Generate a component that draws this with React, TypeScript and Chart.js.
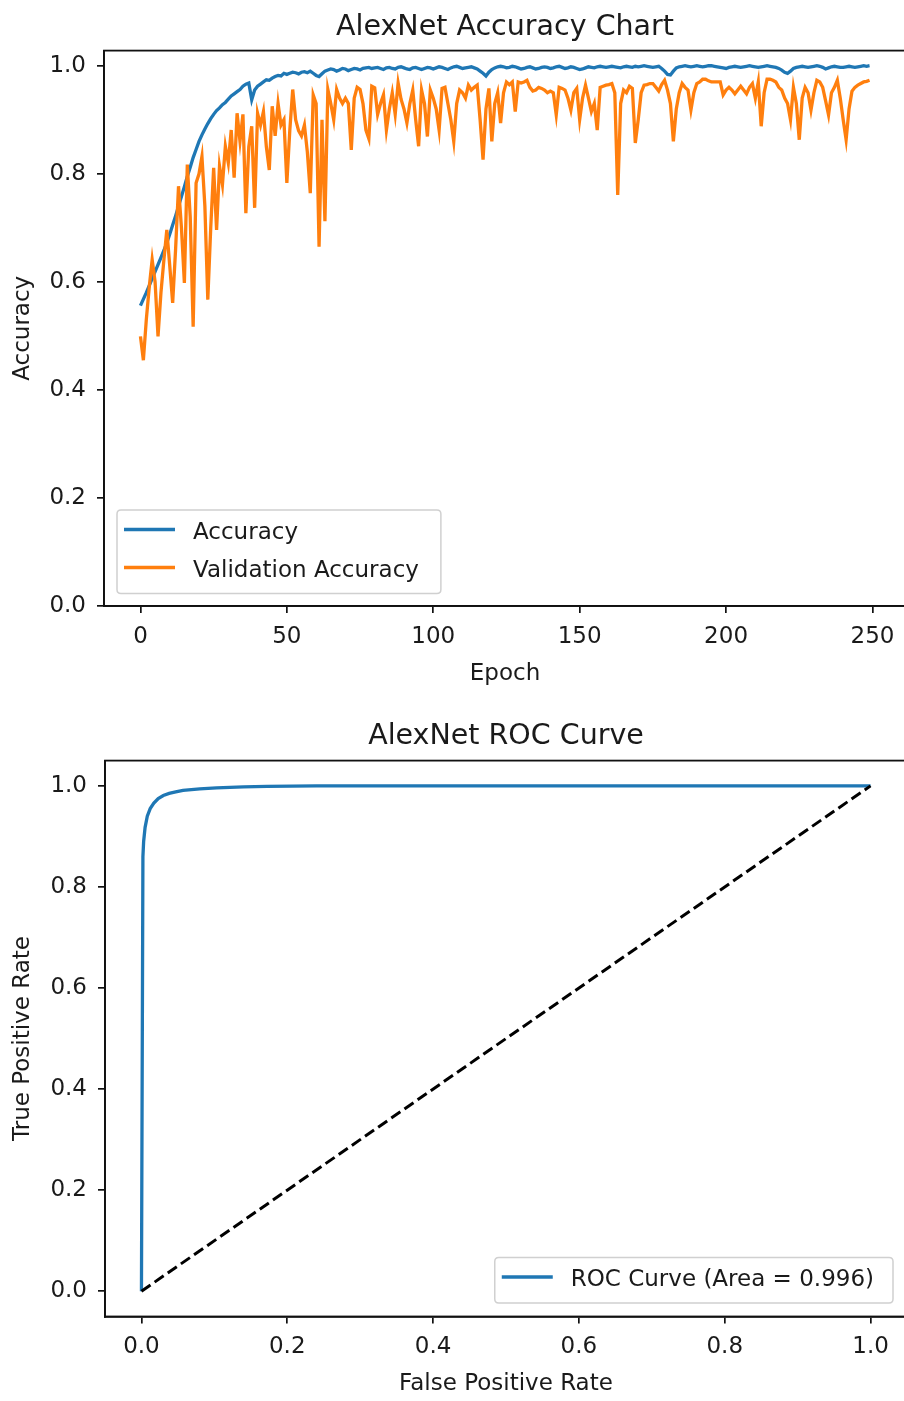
import React, { useEffect, useRef } from 'react';
import { Chart, registerables } from 'chart.js';

Chart.register(...registerables);

const FONT = '"DejaVu Sans", "Liberation Sans", sans-serif';
const TEXT = '#1a1a1a';
const BLUE = '#1f77b4';
const ORANGE = '#ff7f0e';

// ---------- Accuracy chart data ----------
const EPOCH_TICKS = [0, 50, 100, 150, 200, 250];
const ACC_TICKS = [0, 0.2, 0.4, 0.6, 0.8, 1.0];

const ACCURACY = [
  0.556, 0.568, 0.58, 0.593, 0.606, 0.619, 0.632, 0.645, 0.658, 0.672,
  0.688, 0.705, 0.722, 0.74, 0.758, 0.776, 0.795, 0.812, 0.83, 0.845,
  0.86, 0.872, 0.883, 0.893, 0.902, 0.91, 0.917, 0.922, 0.928, 0.932,
  0.938, 0.944, 0.948, 0.952, 0.956, 0.962, 0.966, 0.968, 0.937, 0.955,
  0.962, 0.966, 0.97, 0.974, 0.973, 0.977, 0.98, 0.982, 0.981, 0.986,
  0.984, 0.986, 0.988, 0.987, 0.985, 0.988, 0.989, 0.987, 0.99, 0.986,
  0.982, 0.98, 0.985, 0.99, 0.992, 0.994, 0.993, 0.99, 0.992, 0.995,
  0.994, 0.991, 0.993, 0.995, 0.994, 0.992, 0.995, 0.996, 0.997, 0.995,
  0.996, 0.997, 0.995, 0.993, 0.996, 0.997, 0.995, 0.994, 0.997, 0.998,
  0.996, 0.994, 0.993, 0.996, 0.997, 0.995, 0.993, 0.995, 0.997, 0.996,
  0.994, 0.996, 0.998, 0.997, 0.995, 0.993, 0.996, 0.998, 0.999, 0.997,
  0.995, 0.996, 0.997, 0.998, 0.996, 0.994, 0.99, 0.986, 0.981, 0.988,
  0.993, 0.996, 0.998, 0.999, 0.998, 0.996, 0.997, 0.999, 0.998, 0.996,
  0.994, 0.995, 0.997, 0.998, 0.996, 0.994, 0.995, 0.997, 0.998, 0.997,
  0.995, 0.996, 0.998, 0.999, 0.997, 0.995, 0.996, 0.998, 0.997, 0.995,
  0.993, 0.994, 0.996, 0.998, 0.997, 0.996, 0.998, 0.999, 0.998, 0.997,
  0.998, 0.999, 0.998, 0.997, 0.996, 0.998, 0.999, 0.998, 0.997, 0.999,
  0.998, 0.999, 1.0, 0.999, 0.998, 0.997, 0.998, 0.999, 0.995, 0.99,
  0.984, 0.983, 0.99, 0.996, 0.998, 0.999, 1.0, 0.999, 0.998, 0.999,
  1.0, 0.999, 0.998, 0.999, 1.0, 1.0, 0.999, 0.998, 0.997, 0.996,
  0.995, 0.997, 0.998, 0.999, 0.998, 0.997, 0.998, 0.999, 1.0, 0.999,
  0.998, 0.997, 0.998, 0.999, 1.0, 0.999, 0.998, 0.997, 0.995, 0.992,
  0.988, 0.986, 0.99, 0.995, 0.997, 0.998, 0.999, 0.998, 0.997, 0.998,
  0.999, 1.0, 0.999, 0.997, 0.994, 0.996, 0.998, 0.999, 0.998, 0.997,
  0.997, 0.998, 0.999, 0.998, 0.997, 0.998, 0.999, 1.0, 0.999, 1.0,
];

const VAL_ACCURACY = [
  0.499, 0.455, 0.53, 0.59, 0.641, 0.6, 0.499, 0.58, 0.64, 0.696,
  0.63, 0.561, 0.66, 0.777, 0.7, 0.598, 0.817, 0.72, 0.517, 0.783,
  0.8, 0.832, 0.74, 0.567, 0.7, 0.811, 0.696, 0.814, 0.78, 0.851,
  0.82, 0.881, 0.793, 0.912, 0.86, 0.91, 0.727, 0.85, 0.888, 0.737,
  0.912, 0.89, 0.915, 0.85, 0.807, 0.925, 0.87, 0.93, 0.89, 0.9,
  0.783, 0.88, 0.956, 0.9, 0.88, 0.87, 0.89, 0.84, 0.764, 0.946,
  0.93, 0.665, 0.9, 0.712, 0.956, 0.93, 0.9, 0.956, 0.94, 0.93,
  0.94, 0.93, 0.844, 0.94, 0.96, 0.956, 0.93, 0.881, 0.865, 0.962,
  0.959, 0.91, 0.93, 0.946, 0.881, 0.92, 0.95, 0.91, 0.968, 0.938,
  0.92, 0.894, 0.93, 0.955, 0.9, 0.851, 0.955, 0.93, 0.869, 0.955,
  0.94, 0.92, 0.881, 0.958, 0.96, 0.93, 0.9, 0.86, 0.93, 0.955,
  0.95, 0.94, 0.964, 0.955, 0.96, 0.964, 0.9, 0.826, 0.92, 0.958,
  0.86, 0.93, 0.95, 0.894, 0.95, 0.97, 0.965, 0.97, 0.915, 0.97,
  0.968, 0.97, 0.973, 0.96, 0.953, 0.955, 0.96, 0.958, 0.955, 0.95,
  0.953, 0.95, 0.909, 0.96, 0.958, 0.955, 0.94, 0.918, 0.95, 0.958,
  0.9, 0.94, 0.964, 0.94, 0.915, 0.93, 0.881, 0.96, 0.962, 0.964,
  0.965, 0.967, 0.95, 0.761, 0.93, 0.955, 0.95, 0.962, 0.958, 0.857,
  0.9, 0.95, 0.964, 0.965, 0.967, 0.967, 0.96, 0.953, 0.965, 0.973,
  0.955, 0.93, 0.86, 0.92, 0.95, 0.967, 0.96, 0.955, 0.918, 0.95,
  0.967, 0.97, 0.975, 0.975, 0.972, 0.97, 0.97, 0.97, 0.97, 0.946,
  0.955, 0.96, 0.955, 0.948, 0.955, 0.962, 0.955, 0.948, 0.96, 0.967,
  0.94, 0.97, 0.888, 0.95, 0.975, 0.975, 0.973, 0.97, 0.96, 0.955,
  0.94, 0.93, 0.9, 0.96, 0.93, 0.863, 0.94, 0.96, 0.95, 0.918,
  0.95, 0.973, 0.97, 0.96, 0.935, 0.909, 0.95, 0.96, 0.973, 0.94,
  0.9, 0.863, 0.92, 0.953, 0.96, 0.964, 0.967, 0.97, 0.971, 0.973,
];

// ---------- ROC chart data ----------
const ROC_TICKS = [0, 0.2, 0.4, 0.6, 0.8, 1.0];
const FPR = [0, 0.002, 0.003, 0.005, 0.008, 0.012, 0.017, 0.023, 0.03, 0.038, 0.047, 0.057, 0.08, 0.103, 0.14, 0.172, 0.24, 0.4, 0.6, 0.8, 1.0];
const TPR = [0, 0.86, 0.89, 0.918, 0.94, 0.955, 0.966, 0.975, 0.981, 0.985, 0.988, 0.991, 0.994, 0.996, 0.998, 0.999, 1.0, 1.0, 1.0, 1.0, 1.0];
const CHANCE_X = [0, 1];
const CHANCE_Y = [0, 1];
const ROC_AREA = 0.996;

// ---------- plugins ----------
const framePlugin = {
  id: 'frame',
  afterDraw(chart: any) {
    const { ctx, chartArea: a } = chart;
    ctx.save();
    ctx.strokeStyle = '#111';
    ctx.lineWidth = 1.8;
    ctx.strokeRect(a.left, a.top, a.right - a.left, a.bottom - a.top);
    ctx.restore();
  },
};

const boxLegendPlugin = {
  id: 'boxLegend',
  afterDraw(chart: any, _args: any, opts: any) {
    if (!opts || !opts.display) return;
    const { ctx, chartArea: a } = chart;
    const items = chart.data.datasets
      .filter((d: any) => d.label && !d.hideInLegend)
      .map((d: any) => ({ label: d.label, color: d.borderColor }));
    ctx.save();
    ctx.font = `${opts.fontSize}px ${FONT}`;
    const textW = Math.max(...items.map((it: any) => ctx.measureText(it.label).width));
    const w = opts.textOffset + textW + opts.padRight;
    const h = opts.padTop + opts.rowGap * (items.length - 1) + opts.padBottom;
    const x = opts.corner === 'lower left' ? a.left + opts.marginX : a.right - opts.marginX - w;
    const y = a.bottom - opts.marginY - h;
    ctx.beginPath();
    const r = 4;
    ctx.moveTo(x + r, y);
    ctx.lineTo(x + w - r, y);
    ctx.quadraticCurveTo(x + w, y, x + w, y + r);
    ctx.lineTo(x + w, y + h - r);
    ctx.quadraticCurveTo(x + w, y + h, x + w - r, y + h);
    ctx.lineTo(x + r, y + h);
    ctx.quadraticCurveTo(x, y + h, x, y + h - r);
    ctx.lineTo(x, y + r);
    ctx.quadraticCurveTo(x, y, x + r, y);
    ctx.closePath();
    ctx.fillStyle = 'rgba(255,255,255,0.85)';
    ctx.fill();
    ctx.strokeStyle = '#d0d0d0';
    ctx.lineWidth = 1.5;
    ctx.stroke();
    items.forEach((it: any, i: number) => {
      const cy = y + opts.padTop + i * opts.rowGap;
      ctx.beginPath();
      ctx.strokeStyle = it.color;
      ctx.lineWidth = 3.4;
      ctx.moveTo(x + opts.lineStart, cy);
      ctx.lineTo(x + opts.lineStart + opts.lineLen, cy);
      ctx.stroke();
      ctx.fillStyle = TEXT;
      ctx.textBaseline = 'middle';
      ctx.textAlign = 'left';
      ctx.fillText(it.label, x + opts.textOffset, cy + 3.5);
    });
    ctx.restore();
  },
};

const tickFont = { family: FONT, size: 23 };
const titleFont = { family: FONT, size: 28.5, weight: 'normal' as const };

function axis(min: number, max: number, tickVals: number[], fmt: (v: number) => string, size: number, isX: boolean, title: string, titlePad: any) {
  return {
    type: 'linear' as const,
    min,
    max,
    afterBuildTicks: (s: any) => {
      s.ticks = tickVals.map((v) => ({ value: v }));
    },
    afterFit: (s: any) => {
      if (isX) s.height = size;
      else s.width = size;
    },
    ticks: {
      font: tickFont,
      color: TEXT,
      padding: isX ? 10 : 11,
      autoSkip: false,
      maxRotation: 0,
      minRotation: 0,
      callback: (v: any) => fmt(Number(v)),
    },
    grid: {
      display: true,
      drawOnChartArea: false,
      drawTicks: true,
      tickLength: 7,
      color: '#111',
      tickColor: '#111',
      lineWidth: 1.7,
    },
    border: { display: true, color: '#111', width: 1.8 },
    title: { display: true, text: title, font: tickFont, color: TEXT, padding: titlePad },
  };
}

function accuracyConfig(): any {
  const epochs = ACCURACY.map((_, i) => i);
  return {
    type: 'line',
    data: {
      datasets: [
        {
          label: 'Accuracy',
          data: epochs.map((e) => ({ x: e, y: ACCURACY[e] })),
          borderColor: BLUE,
          borderWidth: 3.3,
          pointRadius: 0,
          tension: 0,
          order: 1,
        },
        {
          label: 'Validation Accuracy',
          data: epochs.map((e) => ({ x: e, y: VAL_ACCURACY[e] })),
          borderColor: ORANGE,
          borderWidth: 3.3,
          pointRadius: 0,
          tension: 0,
          order: 0,
        },
      ],
    },
    options: {
      animation: false,
      responsive: false,
      maintainAspectRatio: false,
      devicePixelRatio: 1,
      events: [],
      layout: { padding: { left: 0, right: 6, top: 0, bottom: 0 } },
      plugins: {
        legend: { display: false },
        tooltip: { enabled: false },
        title: {
          display: true,
          text: 'AlexNet Accuracy Chart',
          fullSize: false,
          font: titleFont,
          color: TEXT,
          padding: { top: 10.5, bottom: 5.9 },
        },
        boxLegend: {
          display: true,
          corner: 'lower left',
          fontSize: 23,
          marginX: 13,
          marginY: 12.5,
          padTop: 19.5,
          rowGap: 38,
          padBottom: 26,
          lineStart: 7,
          lineLen: 51,
          textOffset: 76,
          padRight: 22,
        },
      },
      scales: {
        x: axis(-12.45, 261.45, EPOCH_TICKS, (v) => String(v), 94, true, 'Epoch', { top: 0, bottom: 12 }),
        y: axis(0, 1.028, ACC_TICKS, (v) => v.toFixed(1), 104, false, 'Accuracy', { top: 9, bottom: 0 }),
      },
    },
    plugins: [framePlugin, boxLegendPlugin],
  };
}

function rocConfig(): any {
  return {
    type: 'line',
    data: {
      datasets: [
        {
          label: `ROC Curve (Area = ${ROC_AREA.toFixed(3)})`,
          data: FPR.map((x, i) => ({ x, y: TPR[i] })),
          borderColor: BLUE,
          borderWidth: 3.3,
          pointRadius: 0,
          tension: 0,
          order: 1,
        },
        {
          label: 'chance',
          hideInLegend: true,
          data: CHANCE_X.map((x, i) => ({ x, y: CHANCE_Y[i] })),
          borderColor: '#000',
          borderWidth: 3,
          borderDash: [11, 5],
          pointRadius: 0,
          tension: 0,
          order: 0,
        },
      ],
    },
    options: {
      animation: false,
      responsive: false,
      maintainAspectRatio: false,
      devicePixelRatio: 1,
      events: [],
      layout: { padding: { left: 0, right: 5, top: 0, bottom: 0 } },
      plugins: {
        legend: { display: false },
        tooltip: { enabled: false },
        title: {
          display: true,
          text: 'AlexNet ROC Curve',
          fullSize: false,
          font: titleFont,
          color: TEXT,
          padding: { top: 19.5, bottom: 6.9 },
        },
        boxLegend: {
          display: true,
          corner: 'lower right',
          fontSize: 23,
          marginX: 14,
          marginY: 13.5,
          padTop: 19.5,
          rowGap: 38,
          padBottom: 26,
          lineStart: 7,
          lineLen: 51,
          textOffset: 76,
          padRight: 19,
        },
      },
      scales: {
        x: axis(-0.05, 1.05, ROC_TICKS, (v) => v.toFixed(1), 84.5, true, 'False Positive Rate', { top: 0, bottom: 3.5 }),
        y: axis(-0.05, 1.05, ROC_TICKS, (v) => v.toFixed(1), 105, false, 'True Positive Rate', { top: 9, bottom: 0 }),
      },
    },
    plugins: [framePlugin, boxLegendPlugin],
  };
}

function ChartCanvas({ make, width, height }: { make: () => any; width: number; height: number }) {
  const ref = useRef<HTMLCanvasElement>(null);
  useEffect(() => {
    if (!ref.current) return;
    const chart = new Chart(ref.current, make());
    return () => chart.destroy();
  }, [make]);
  return (
    <canvas
      ref={ref}
      width={width}
      height={height}
      style={{ display: 'block', width: `${width}px`, height: `${height}px` }}
    />
  );
}

export default function App() {
  return (
    <div
      style={{
        position: 'fixed',
        left: 0,
        top: 0,
        width: 904,
        height: 1401,
        overflow: 'hidden',
        background: '#ffffff',
      }}
    >
      <ChartCanvas make={accuracyConfig} width={912} height={700} />
      <ChartCanvas make={rocConfig} width={912} height={701} />
    </div>
  );
}
